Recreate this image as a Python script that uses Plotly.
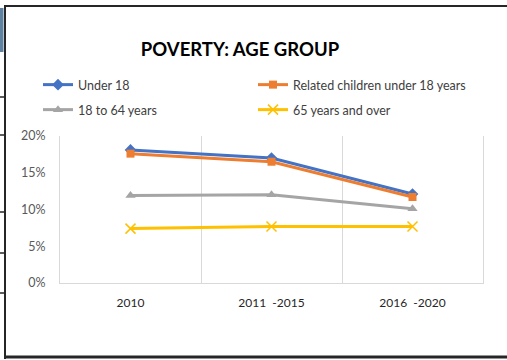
import plotly.graph_objects as go

categories = ["2010", "2011\u00a0 -2015", "2016\u00a0 -2020"]
under_18 = [0.181, 0.170, 0.121]
related_children = [0.176, 0.165, 0.117]
age_18_64 = [0.119, 0.120, 0.101]
age_65_over = [0.074, 0.077, 0.077]

W, H = 507, 360
L, R, T, B = 60, 24, 136, 77
PW, PH = W - L - R, H - T - B

def px(x):
    return (x - L) / PW

def py(y):
    return (H - B - y) / PH

xs = list(range(len(categories)))
FONT = "Lato, Open Sans, Liberation Sans, sans-serif"

fig = go.Figure()
fig.add_trace(go.Scatter(x=xs, y=under_18, name="Under 18", mode="lines+markers",
                         line=dict(color="#4472C4", width=3),
                         marker=dict(symbol="diamond", size=9, color="#4472C4"),
                         legend="legend"))
fig.add_trace(go.Scatter(x=xs, y=related_children, name="Related children under 18 years",
                         mode="lines+markers", line=dict(color="#ED7D31", width=3),
                         marker=dict(symbol="square", size=8, color="#ED7D31"),
                         legend="legend"))
fig.add_trace(go.Scatter(x=xs, y=age_18_64, name="18 to 64 years", mode="lines+markers",
                         line=dict(color="#A5A5A5", width=3),
                         marker=dict(symbol="triangle-up", size=9, color="#A5A5A5"),
                         legend="legend2"))
fig.add_trace(go.Scatter(x=xs, y=age_65_over, name="65 years and over", mode="lines+markers",
                         line=dict(color="#FFC000", width=3),
                         marker=dict(symbol="x-thin-open", size=10, color="#FFC000",
                                     line=dict(color="#FFC000", width=1.5)),
                         legend="legend2"))

legend_common = dict(orientation="h", xanchor="left", yanchor="middle",
                     font=dict(family=FONT, size=12.5, color="#404040"),
                     entrywidth=170, entrywidthmode="pixels", itemwidth=30,
                     bgcolor="rgba(0,0,0,0)", borderwidth=0)

shapes = [
    dict(type="line", xref="paper", yref="paper", x0=px(4), x1=px(507), y0=py(6), y1=py(6),
         line=dict(color="#262626", width=2)),
    dict(type="line", xref="paper", yref="paper", x0=px(5), x1=px(5), y0=py(5), y1=py(359),
         line=dict(color="#262626", width=2)),
    dict(type="line", xref="paper", yref="paper", x0=px(4), x1=px(507), y0=py(357), y1=py(357),
         line=dict(color="#262626", width=3)),
    dict(type="rect", xref="paper", yref="paper", x0=px(0), x1=px(3.5), y0=py(8), y1=py(52),
         fillcolor="#5f82a0", line=dict(width=0)),
]
for yy in [97, 135, 212, 253, 293]:
    shapes.append(dict(type="line", xref="paper", yref="paper", x0=px(0), x1=px(5),
                       y0=py(yy), y1=py(yy), line=dict(color="#262626", width=1.5)))

fig.update_layout(
    width=W, height=H,
    margin=dict(l=L, r=R, t=T, b=B, autoexpand=False),
    paper_bgcolor="white", plot_bgcolor="white",
    title=dict(text="<b>POVERTY: AGE GROUP</b>", xref="paper", x=px(240), xanchor="center",
               yref="container", y=1 - 50 / H, yanchor="middle",
               font=dict(family=FONT, size=18.5, color="#000000")),
    legend=dict(x=px(38), y=py(85), **legend_common),
    legend2=dict(x=px(38), y=py(110), **legend_common),
    shapes=shapes,
    xaxis=dict(range=[-0.5, 2.5], tickvals=xs, ticktext=categories, showgrid=False,
               zeroline=False, showline=True, linecolor="#D9D9D9", linewidth=1,
               ticks="", ticklabelstandoff=9,
               tickfont=dict(family=FONT, size=12, color="#262626"),
               minor=dict(tickvals=[-0.5, 0.5, 1.5, 2.5], showgrid=True, gridcolor="#D9D9D9",
                          gridwidth=1, ticks="")),
    yaxis=dict(range=[0, 0.2], tickvals=[0, 0.05, 0.10, 0.15, 0.20], tickformat=".0%",
               showgrid=False, zeroline=False, showline=True, mirror=True,
               linecolor="#D9D9D9", linewidth=1, ticks="",
               ticklabelstandoff=11,
               tickfont=dict(family=FONT, size=12.5, color="#595959")),
)

fig.write_html("out.html", config={"displayModeBar": False},
               post_script="document.body.style.margin='0';document.body.style.overflow='hidden';")
